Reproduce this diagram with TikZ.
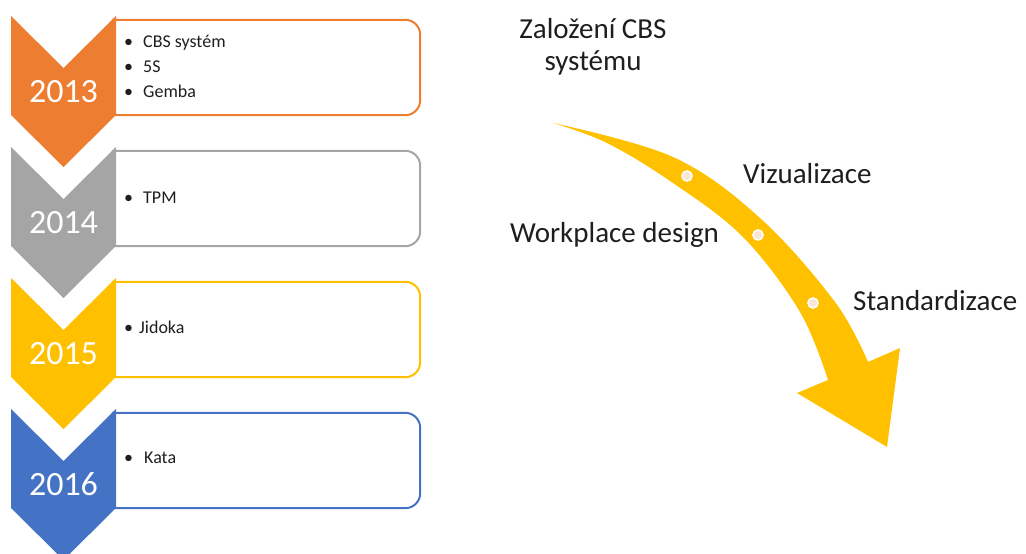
\documentclass[tikz,border=0pt]{standalone}
\usepackage{fontspec}
\setmainfont{Carlito}

\definecolor{yrorange}{HTML}{ED7D31}
\definecolor{yrgray}{HTML}{A5A5A5}
\definecolor{yrgold}{HTML}{FFC000}
\definecolor{yrblue}{HTML}{4472C4}
\definecolor{dotfill}{HTML}{FBE5D6}
\definecolor{inktext}{HTML}{1E1E1E}

\tikzset{
    itembox/.style={minimum width=308pt, minimum height=95pt, inner sep=0pt},
    boxline/.style={line width=2pt, rounded corners=15pt},
    yeartext/.style={text=white, font=\fontsize{34}{34}\selectfont, inner sep=0pt},
    itemtext/.style={text=inktext, font=\fontsize{18}{18}\selectfont, inner sep=0pt},
    steptext/.style={text=inktext, font=\fontsize{29}{32}\selectfont, inner sep=0pt, align=center},
    stepdot/.style={circle, draw=white, line width=1.6pt, fill=dotfill, minimum size=10pt, inner sep=0pt},
}

\begin{document}
\begin{tikzpicture}[x=1pt, y=-1pt]
    \useasboundingbox (0,0) rectangle (1026,554);

    % Year chevrons with their boxes
    \foreach \i/\yr/\col in {0/2013/yrorange, 1/2014/yrgray, 2/2015/yrgold, 3/2016/yrblue} {
        \begin{scope}[yshift=-\i*131pt]
            \node[itembox] (box\yr) at (266,67.5) {};
            \draw[boxline, \col] (box\yr.north west) -- (box\yr.north east)
                -- (box\yr.south east) -- (box\yr.south west);
            \fill[\col] (11,16) -- (63.5,68) -- (116,16) -- (116,115) -- (63.5,167) -- (11,115) -- cycle;
            \node[yeartext, anchor=base] (year\yr) at (63.5,102) {\yr};
        \end{scope}
    }

    % Items of each year
    \node[itemtext, anchor=base west] (cbs) at (124,47) {\makebox[19pt][l]{•}CBS systém};
    \node[itemtext, anchor=base west] (fives) at (124,72) {\makebox[19pt][l]{•}5S};
    \node[itemtext, anchor=base west] (gemba) at (124,97) {\makebox[19pt][l]{•}Gemba};
    \node[itemtext, anchor=base west] (tpm) at (124,203) {\makebox[19pt][l]{•}TPM};
    \node[itemtext, anchor=base west] (jidoka) at (124,333) {\makebox[15pt][l]{•}Jidoka};
    \node[itemtext, anchor=base west] (kata) at (124,463) {\makebox[20pt][l]{•}Kata};

    % Curved arrow
    \fill[yrgold] plot[smooth, tension=0.6] coordinates {(553,123) (673,157) (760,218) (835,302) (868,362)}
        -- (900,348) -- (887,447) -- (797,393) -- (828,380)
        -- plot[smooth, tension=0.6] coordinates {(828,380) (800,312) (743,237) (673,183) (607,143) (553,123)}
        -- cycle;
    \node[stepdot] (dot1) at (687,176) {};
    \node[stepdot] (dot2) at (758,235) {};
    \node[stepdot] (dot3) at (813,303) {};

    % Step labels
    \node[steptext, anchor=base] (start) at (593,70) {Založení CBS\\systému};
    \node[steptext, anchor=base west] (visual) at (743,183) {Vizualizace};
    \node[steptext, anchor=base west] (design) at (510,242) {Workplace design};
    \node[steptext, anchor=base west] (standard) at (853,310) {Standardizace};
\end{tikzpicture}
\end{document}
